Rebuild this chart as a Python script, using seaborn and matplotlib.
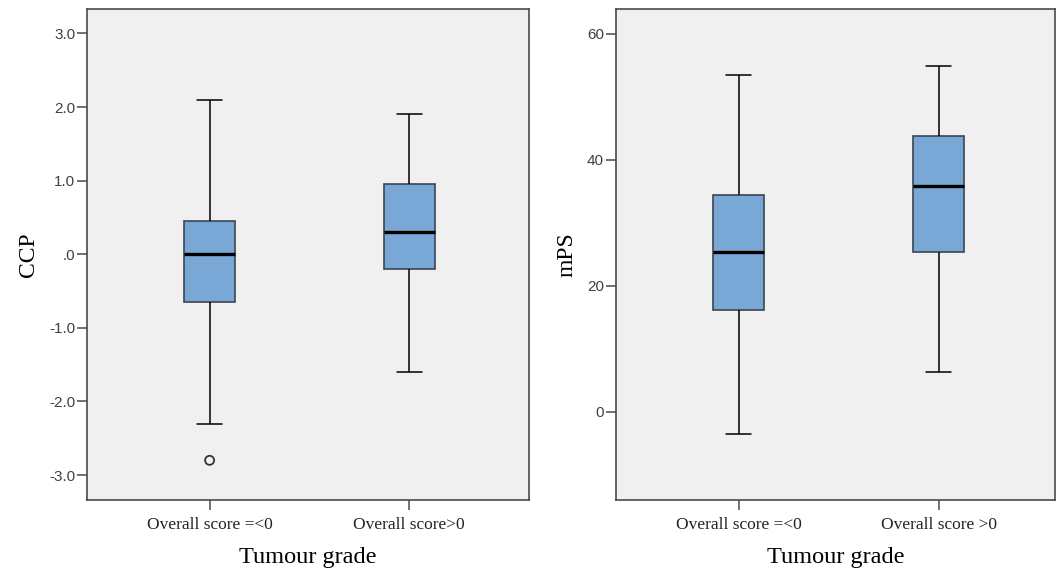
import matplotlib
matplotlib.use("Agg")
import matplotlib.pyplot as plt
import pandas as pd
import seaborn as sns

# Category labels on the x axis of each panel
ccp_groups = ["Overall score =<0", "Overall score>0"]
mps_groups = ["Overall score =<0", "Overall score >0"]

# CCP box summaries per group: lower whisker, Q1, median, Q3, upper whisker
ccp_low = [-2.3, -1.6]
ccp_q1 = [-0.65, -0.2]
ccp_median = [0.0, 0.3]
ccp_q3 = [0.45, 0.95]
ccp_high = [2.1, 1.9]
ccp_outlier_group = ["Overall score =<0"]
ccp_outlier_value = [-2.8]

# mPS box summaries per group
mps_low = [-3.5, 6.4]
mps_q1 = [16.2, 25.4]
mps_median = [25.4, 35.8]
mps_q3 = [34.4, 43.7]
mps_high = [53.4, 54.8]

ccp_ticks = [-3, -2, -1, 0, 1, 2, 3]
ccp_ticklabels = ["-3.0", "-2.0", "-1.0", ".0", "1.0", "2.0", "3.0"]
mps_ticks = [0, 20, 40, 60]
mps_ticklabels = ["0", "20", "40", "60"]

BOX_FILL = "#79a8d6"
BOX_EDGE = "#3a4652"
PANEL_BG = "#f0f0f0"
SPINE = "#4a4a4a"
SERIF = ["Liberation Serif", "DejaVu Serif"]
SANS = ["Liberation Sans", "DejaVu Sans"]

sns.set_theme(style="white")
plt.rcParams["font.family"] = SERIF


def summary_frame(groups, low, q1, med, q3, high):
    rows = []
    for g, a, b, c, d, e in zip(groups, low, q1, med, q3, high):
        for v in (a, b, c, d, e):
            rows.append({"group": g, "value": v})
    return pd.DataFrame(rows)


def draw_panel(ax, df, groups, ylabel, ylim, ticks, ticklabels):
    ax.set_facecolor(PANEL_BG)
    sns.boxplot(
        data=df, x="group", y="value", order=groups, ax=ax,
        width=0.253, whis=(0, 100), color=BOX_FILL, saturation=1,
        linecolor="black", linewidth=1.1, fliersize=0,
        boxprops=dict(edgecolor=BOX_EDGE, linewidth=1.2),
        medianprops=dict(color="black", linewidth=2.4),
        whiskerprops=dict(color="black", linewidth=1.1),
        capprops=dict(color="black", linewidth=1.1),
    )
    ax.set_ylim(*ylim)
    ax.set_yticks(ticks)
    ax.set_yticklabels(ticklabels, family=SANS, fontsize=11, color="#404040")
    ax.set_xticks(range(len(groups)))
    ax.set_xticklabels(groups, family=SERIF, fontsize=12.5, color="#222222")
    ax.tick_params(axis="both", which="major", length=7.2, width=1.1,
                   color=SPINE, direction="out", left=True, bottom=True)
    ax.tick_params(axis="x", pad=5)
    ax.tick_params(axis="y", pad=1.5)
    ax.set_ylabel(ylabel, family=SERIF, fontsize=17, color="black", labelpad=7)
    ax.set_xlabel("Tumour grade", family=SERIF, fontsize=17.5, color="black", labelpad=10)
    for s in ax.spines.values():
        s.set_visible(True)
        s.set_color(SPINE)
        s.set_linewidth(1.2)
    ax.grid(False)


fig = plt.figure(figsize=(10.56, 5.69), dpi=100)
fig.patch.set_facecolor("white")
ax1 = fig.add_axes([0.0826, 0.1218, 0.4184, 0.8622])
ax2 = fig.add_axes([0.5832, 0.1218, 0.4157, 0.8622])

ccp_df = summary_frame(ccp_groups, ccp_low, ccp_q1, ccp_median, ccp_q3, ccp_high)
mps_df = summary_frame(mps_groups, mps_low, mps_q1, mps_median, mps_q3, mps_high)

draw_panel(ax1, ccp_df, ccp_groups, "CCP", (-3.335, 3.33), ccp_ticks, ccp_ticklabels)
out_df = pd.DataFrame({"group": ccp_outlier_group, "value": ccp_outlier_value})
sns.stripplot(data=out_df, x="group", y="value", order=ccp_groups, ax=ax1,
              jitter=False, marker="o", size=6.5, color="#333333",
              facecolor="none", edgecolor="#333333", linewidth=1.3, zorder=5)
ax1.set_xlim(-0.613, 1.6)
ax1.set_xlabel("Tumour grade", family=SERIF, fontsize=17.5, color="black", labelpad=10)

draw_panel(ax2, mps_df, mps_groups, "mPS", (-13.93, 63.9), mps_ticks, mps_ticklabels)
ax2.set_xlim(-0.613, 1.58)

fig.savefig("out.png", dpi=100, facecolor="white")
